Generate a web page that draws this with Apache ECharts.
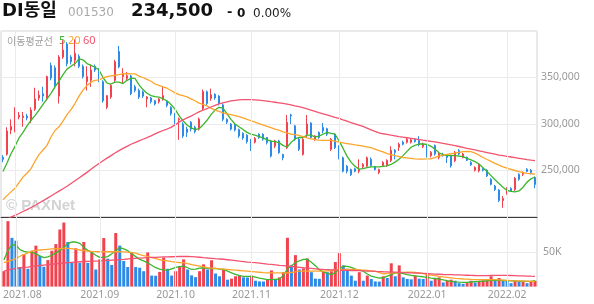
<!DOCTYPE html>
<html><head><meta charset="utf-8">
<script src="https://cdn.jsdelivr.net/npm/echarts/dist/echarts.min.js"></script>
<style>html,body{margin:0;padding:0;background:#fff}#c{width:594px;height:304px}</style>
</head><body><div id="c"></div>
<script>
// ---- data (prices in thousand won, volumes in thousand shares) ----
const dates = [
'2021-07-28','2021-07-29','2021-07-30',
'2021-08-02','2021-08-03','2021-08-04','2021-08-05','2021-08-06','2021-08-09','2021-08-10','2021-08-11','2021-08-12','2021-08-13',
'2021-08-17','2021-08-18','2021-08-19','2021-08-20','2021-08-23','2021-08-24','2021-08-25','2021-08-26','2021-08-27','2021-08-30','2021-08-31',
'2021-09-01','2021-09-02','2021-09-03','2021-09-06','2021-09-07','2021-09-08','2021-09-09','2021-09-10','2021-09-13','2021-09-14',
'2021-09-15','2021-09-16','2021-09-17','2021-09-23','2021-09-24','2021-09-27','2021-09-28','2021-09-29','2021-09-30',
'2021-10-01','2021-10-05','2021-10-06','2021-10-07','2021-10-08','2021-10-12','2021-10-13','2021-10-14','2021-10-15',
'2021-10-18','2021-10-19','2021-10-20','2021-10-21','2021-10-22','2021-10-25','2021-10-26','2021-10-27','2021-10-28','2021-10-29',
'2021-11-01','2021-11-02','2021-11-03','2021-11-04','2021-11-05','2021-11-08','2021-11-09','2021-11-10','2021-11-11','2021-11-12',
'2021-11-15','2021-11-16','2021-11-17','2021-11-18','2021-11-19','2021-11-22','2021-11-23','2021-11-24','2021-11-25','2021-11-26',
'2021-11-29','2021-11-30',
'2021-12-01','2021-12-02','2021-12-03','2021-12-06','2021-12-07','2021-12-08','2021-12-09','2021-12-10','2021-12-13','2021-12-14',
'2021-12-15','2021-12-16','2021-12-17','2021-12-20','2021-12-21','2021-12-22','2021-12-23','2021-12-24','2021-12-27','2021-12-28',
'2021-12-29','2021-12-30',
'2022-01-03','2022-01-04','2022-01-05','2022-01-06','2022-01-07','2022-01-10','2022-01-11','2022-01-12','2022-01-13','2022-01-14',
'2022-01-17','2022-01-18','2022-01-19','2022-01-20','2022-01-21','2022-01-24','2022-01-25','2022-01-26','2022-01-27','2022-01-28',
'2022-02-03','2022-02-04','2022-02-07','2022-02-08','2022-02-09','2022-02-10','2022-02-11','2022-02-14'
];
const openK = [
264,267.5,293.5,300,307.5,307,308.5,304,316,328,
332.5,327,363,360.5,330,372,386,372,368.5,372.7,
362,345.5,347,362,358,345.5,318,329,347,378,
351,349,351.5,340,336,334.5,327,328,325,324,
327,324,318,311,304.5,300,294.5,302,296.5,294.5,
316.5,334.7,327.4,332,330,320.5,305,300,299,294,
290,288,283,280.5,289,289,285.5,281.8,276.3,281.8,
267.3,274.6,309.7,298,283.6,267.3,289,301,283.6,291,
296.3,295,272.8,289,276.3,263.7,254.6,251,251.8,249.3,
254,254.6,262,254.3,247.8,255.4,255.4,260.8,271.7,275,
280.4,280.4,280.4,283.3,282.2,275.7,276.8,265.9,276.8,264.1,
267.7,265.9,265.9,260.5,271.3,264.1,264.1,258.6,250.3,249.6,
251.4,250.3,240.5,233.3,229,217.7,225,230.7,229.6,245.9,
246,251.4,250.3,242.4];
const closeK = [
262,292.5,297.5,306,309.5,308.5,306.5,315,327,331,
330,351,349.5,341.5,372,379.5,365,367,376,362,
351,351,358,358,347,325,330.5,341.5,367,361.5,
354,352,332.5,336,329,330,329,324,321.5,327,
330.5,320,311,302,305.5,287,291,294.5,292,305.3,
335,322,331.4,328,322,305,302,294.5,293.5,287,
285,281,273,284.5,285.5,283.6,280,265.5,281.8,269.2,
263.7,301.8,308.6,283.6,272.8,283.6,300,285.5,287.2,285.5,
292.6,289,283.6,274.6,263.7,249.2,249.2,245.6,249.2,251,
256.5,263.7,255.4,251,251,258.6,260.8,271.7,269.5,278.2,
278.2,283.6,282.9,281.1,277.9,278.5,265.9,269.5,267.7,267.7,
265.9,264.1,255,269.5,267.7,267.7,261.1,256.1,253.2,256.8,
250.3,244.2,235.1,229.6,217.7,219.9,230.7,227.9,241.6,240.5,
247.8,248.9,247.8,235];
const lowK = [
259,266,289,291,305,297,304,301,314,325,
324,325,347,338,322,370,362,364,362,360,
349,336,340,356,345,323,316,327,345,360,
343,347,331,334,327,328,318,322,320,322,
325,318,309,300,283,285,286,292,290,293,
315,320,325,326,320,303,300,293,292,285,
283,279,271,279,284,282,278,264,274,268,
261,273,300,282,271,266,285.8,284,282,284,
290,287,271,273,262,248,247,244,248,247,
252,253,254,250,246,254,254,259,262,271,
277,279,279,280,276,274,264,264,266,262,
265,258,253,259,266,263,260,255,249,248,
249,243,234,228,216,209.8,224,227,228,239,
244,248,246,231];
const highK = [
266.5,296.5,305,318,313,313,311,318,339,336,
340,352,366,363,374,390,388,374,391,375,
364,362,364,364,360,347,331,343,369,384,
360,356,353,342,338,336,330,329,326,328,
340,325,319,312,307,302,297,303,298,307,
337,336,338,333,331,322,306,301,300,295,
291,289,284,286,290,290,286,283,283,283,
268,309.7,311,299,285,285,309.7,302,288,292,
301,296,285,290,277,265,256,252,253,262,
258,265,264,255,252,260,262,276,273,280,
282,285,284,284.5,286.9,280,278,271,278,269,
269,267,267,271,273,269,265,260,254.5,258,
252.5,251.5,242,234.5,230,222.5,232,232,243,247,
249,252.5,251.5,243.5];
const ma5K = [
249,258,268,276,285,291,298,304,309,315,
321,327,333,340,346,353,359,362,365,370,
369,365,363,361,358,350,344,343,345,345,
343.5,347,349,349,342,337,333,330.5,329.5,329,
327,325,321,316,309,303.5,299,296,294,295,
299,304,310,315,318,317,311,305,300,297,
294,291,289,288,286.5,285,283,281.5,281,280,
277,275,280,284,285.5,285.5,288,288,286,287,
289,291,290,289,282,274,265.5,259,254.5,251.5,
252,253,254,254,254,254.5,255,256.5,259,262,
266,270.6,275,277,278.5,278.5,278,276,273,269,
267,266,266,266,265.5,265,263,261.5,259.5,257,
253,249,244.5,240,236,232,228.5,227.5,227,228,
232,237.5,241,243];
const ma20K = [
218.5,223,227,231,237,243,247,252,260,267,
272,277,286,293,297,303,310,315.5,322,330,
336.5,341.5,345,347,347.5,349.5,351,351.8,352.4,353,
354,354.2,354,354,351.5,350,348,346,343,341.5,
340,338.5,336,333.5,331.5,330.4,329.2,327,325,322.5,
321,319.5,317,315,313.5,312,311,310,309,307.8,
306.5,305,303.5,302,300.5,299,297.5,296,294.5,293.3,
291.5,290.5,289.2,288.5,287.8,286.5,285,284,283.2,282.6,
282.5,282.5,282.3,281.5,280.6,279.7,279,278.3,277.6,277,
276.3,275.5,274.6,273,271.4,270,268.2,267,266,265,
264,263.5,263,262.5,262.2,262.2,262.4,262.6,264,265.5,
266.5,267.3,268,268.8,269.6,270.4,270.6,270.3,268.8,266.5,
264,261.8,259.8,257.6,255.7,254,252.5,251.2,250,248.8,
247.8,247,246.5,246];
const ma60K = [
195.5,197.7,199.8,201.8,203.8,205.9,208,210.2,212.4,215,
217.5,220,222.6,225.2,227.8,230.4,233,236,239,242,
245,248,251.3,254.5,257.5,260.5,263.3,266,268.8,271.4,
273.8,276,278.2,280,281.8,283.6,285.4,287.3,289.3,291.2,
293,294.6,296.4,299,302,304.5,306.5,308.5,310.8,313,
314.8,316.5,318.3,320,321.6,322.8,323.8,324.8,325.4,325.9,
326.2,326.3,326.2,325.9,325.6,325.2,324.7,324,323.4,322.8,
322.2,321.4,320.5,319.5,318.6,317.5,316.3,315,313.6,312.2,
311,309.8,308.5,307.1,306,304.4,303,301.6,300.2,298.8,
297.4,295.6,293.6,292,290.4,289.5,288.8,288,287.3,286.5,
285.8,285.2,284.6,284,283.3,282.6,282,281.4,280.7,280,
279.2,278.4,277.6,276.7,275.8,274.8,273.8,273,272.1,271.2,
270.2,269.3,268.4,267.5,266.6,265.9,265.2,264.5,263.8,263.1,
262.4,261.7,261.1,260.6];
const volK = [
22,94,70,66,28,46.6,25.5,51.5,58.8,44,
28.4,38,51.5,61,82,92,64,35,55,34,
64,34,49,24.5,39,69.7,40,31,77,58.8,
36.8,28,49,28,27,22,49,15.7,15.5,21,
41.7,25.5,15.7,22,29.4,39,24.5,16,13.5,22,
31.9,24.5,37.8,18.7,14.7,24.5,9.8,11.3,14.7,15.7,
13.2,13,15.7,8.3,7.3,7.2,9.8,23.1,10.8,13.2,
20.6,70.1,30.4,45.1,24.5,26,40.2,20.6,11.3,11,
22,20.6,22,35.2,48.1,30.4,25.5,15.7,8.3,20.6,
8.3,15.7,10.8,7.3,7,14.7,12.2,33.4,14.7,30.4,
13.2,10.8,10.3,15.7,11.3,10.8,19.6,8.3,12.2,13.2,
5.8,8.3,9.8,8.3,4.8,3.8,4.9,8.3,5.8,8.3,
8.8,10.8,14.7,9.8,12.2,8.8,8.3,4.8,8.3,7.3,
8.3,4.8,7.3,8.3];
const volMa5K = [
38,52,60,59.7,53,50.5,49.5,49,47,44,
41.5,42.5,45,48,52,56.3,62,64,64,62,
56.3,52,49,45,42,42,43,47,51.5,56,
54,51.5,47,43,39,36.8,34,30.5,27,25,
23.8,23.5,25.5,27.5,28.5,29.4,27,24.5,25,26.5,
27,26,25.5,26,25,24.5,22,19.5,17.5,15.5,
14.7,14.5,14.7,13.5,12,11,10,9.8,10.3,10.8,
16,25,30,34.3,37,39,39.2,35,30,24,
21,19,17.2,20,25,29.4,29,27.5,25,23.5,
22,18,15,13.5,12.2,12.5,15,17.2,19.6,19.6,
18.5,17,16,15.3,14.7,14,13.2,12.2,11.5,10.5,
9.5,8.3,7.5,6.8,6.2,5.8,6,6.5,7,7.3,
7.8,8.3,8.8,8.8,8.8,8.6,8.4,8.3,8,7.8,
7.5,7.3,7.5,8.3];
const volMa20K = [
34.3,36,38,40,43.5,46,48.5,51,52,52.5,
53,53.5,54,54.3,54.6,55,55,54.5,53.5,52.5,
51.5,51,50.5,50.2,50,50,50,50,50,50,
49.8,49.4,49.1,48,46,44.5,43,41.5,40,38.5,
37.5,36.8,35.8,35,34.5,34.3,33,31.5,30.5,29.4,
28.2,27,26.5,26,25.5,25,24.5,24,23.5,23,
22.5,22,21.5,21,20.5,20,19.6,19.6,19.6,19.6,
19.6,19.6,20.3,21,22,22,22,22,22,22,
22,22.5,23,23.8,24.5,24.5,24.5,24.5,24.5,24,
23.5,23,22.5,22,20,18,19,19.6,19.6,20,
20.3,20.6,20.6,20.3,19.5,18.5,17.2,16.5,15.5,14.5,
13.8,13.2,12.5,11.8,11.3,10.8,10.5,10.2,10,9.8,
9.8,9.8,9.8,9.8,9.5,9.2,8.8,8.4,8.2,8,
7.8,7.6,7.4,7.3];
const volMa60K = [
22,23.5,25,26,26.8,27.4,28,29,29.6,30.2,
30.8,31.4,32,32.6,33.2,33.8,34.3,34.8,35.2,35.6,
36,36.2,36.4,36.6,36.8,37.1,37.5,37.9,38.3,38.7,
39.1,39.6,40.2,40.6,40.9,41.2,41.5,41.8,42,42.3,
42.5,42.6,42.8,43,43.2,43.3,43.2,42.9,42.5,42.1,
41.5,41,40.6,40,39.6,39.2,38.5,37.8,37.1,36.4,
35.8,35.2,34.7,34.3,33.7,33,32.3,31.7,31.1,30.5,
30,29.4,28.8,28.2,27.6,27,26.5,26,25.5,24.8,
24.5,24.3,24,23.8,23.6,23.4,23.2,23,23,22.8,
22.5,22.2,22,21.7,21.5,21.2,21,20.8,20.6,20.3,
20,19.8,19.6,19.4,19.1,18.8,18.5,18.2,17.9,17.6,
17.3,17.2,17,16.8,16.6,16.4,16.2,16,15.8,15.7,
15.7,15.7,15.8,15.9,16,16,16,15.8,15.6,15.4,
15.2,15,14.8,14.7];
const priceTicksK = [250, 300, 350];
const volTicksK = [50];
const header = { name: 'DI동일', code: '001530', price: '234,500', sign: '-', change: '0', pct: '0.00%' };
const maLabels = ['5', '20', '60'];

// ---- styles ----
const RED = '#f0434f', BLUE = '#2d8ae6', C5 = '#3bb62d', C20 = '#fba52c', C60 = '#f2536e';
const AXISFONT = 'Noto Sans';

const monthStarts = dates.map((d, i) => (i > 0 && d.slice(0, 7) !== dates[i - 1].slice(0, 7)) ? i : -1).filter(i => i >= 0);
const monthSet = new Set(monthStarts);

const chart = echarts.init(document.getElementById('c'), null, { renderer: 'canvas' });
const candleData = dates.map((_, i) => [openK[i], closeK[i], lowK[i], highK[i]]);
const volData = volK.map((v, i) => ({ value: v, itemStyle: { color: (i === 0 || v >= volK[i - 1]) ? RED : BLUE } }));
const nulls = dates.map(() => null);

function maLine(name, data, color, xi, yi) {
  return { name, type: 'line', xAxisIndex: xi, yAxisIndex: yi, data, symbol: 'none', smooth: false,
    lineStyle: { color, width: 1.3 }, z: 3, silent: true, clip: true };
}
function monthLines(xi, yi) {
  return { type: 'line', xAxisIndex: xi, yAxisIndex: yi, data: nulls, symbol: 'none', z: 1, silent: true,
    markLine: { silent: true, symbol: 'none', animation: false, label: { show: false },
      lineStyle: { color: '#ebebeb', type: 'solid', width: 1 },
      data: monthStarts.map(i => ({ xAxis: i })) } };
}

const option = {
  animation: false,
  grid: [
    { left: 1, right: 57, top: 31, height: 186, show: true, borderColor: '#d2d2d2', borderWidth: 1 },
    { left: 1, right: 57, top: 217, height: 69.5, show: true, borderColor: '#d2d2d2', borderWidth: 1 }
  ],
  xAxis: [
    { type: 'category', gridIndex: 0, data: dates, boundaryGap: true,
      axisLine: { show: true, lineStyle: { color: '#3a3a3a', width: 1 } }, axisTick: { show: false },
      axisLabel: { show: false }, splitLine: { show: false } },
    { type: 'category', gridIndex: 1, data: dates, boundaryGap: true,
      axisLine: { show: false }, axisTick: { show: false }, splitLine: { show: false },
      axisLabel: { interval: (i) => monthSet.has(i), color: '#999', fontSize: 10.5, fontFamily: AXISFONT, margin: 3,
        formatter: (v, i) => { const s = v.slice(0, 4) + '.' + v.slice(5, 7); return i === monthStarts[0] ? '{f|' + s + '}' : s; },
        rich: { f: { padding: [0, 0, 0, 13], color: '#999', fontSize: 10.5, fontFamily: AXISFONT } } } }
  ],
  yAxis: [
    { type: 'value', gridIndex: 0, position: 'right', min: 200, max: 400, interval: 50, scale: false,
      axisLine: { show: false }, axisTick: { show: false },
      axisLabel: { color: '#999', fontSize: 10.5, fontFamily: AXISFONT, margin: 4,
        formatter: v => priceTicksK.includes(v) ? (v * 1000).toLocaleString('en-US') : '' },
      splitLine: { show: true, lineStyle: { color: '#ebebeb' } } },
    { type: 'value', gridIndex: 1, position: 'right', min: 0, max: 100, interval: 50,
      axisLine: { show: false }, axisTick: { show: false },
      axisLabel: { color: '#999', fontSize: 10.5, fontFamily: AXISFONT, margin: 6,
        formatter: v => volTicksK.includes(v) ? v + 'K' : '' },
      splitLine: { show: true, lineStyle: { color: '#ebebeb' } } }
  ],
  graphic: { elements: [
    { type: 'text', x: 6, y: 206, z: 0, silent: true, style: { text: '© PAXNet', font: 'bold 15px "Liberation Sans", Arial, sans-serif', fill: '#d3d3d3', verticalAlign: 'middle', textVerticalAlign: 'middle' } },
    { type: 'text', x: 2, y: 11.5, style: { text: header.name, font: 'bold 18px "DejaVu Sans", "Noto Sans CJK KR", sans-serif', fill: '#111', verticalAlign: 'middle', textVerticalAlign: 'middle' } },
    { type: 'text', x: 68, y: 12.5, style: { text: header.code, font: '12px "DejaVu Sans", sans-serif', fill: '#aaa', verticalAlign: 'middle', textVerticalAlign: 'middle' } },
    { type: 'text', x: 131, y: 11, style: { text: header.price, font: 'bold 18px "DejaVu Sans", sans-serif', fill: '#111', verticalAlign: 'middle', textVerticalAlign: 'middle' } },
    { type: 'text', x: 227, y: 13, style: { text: header.sign, font: 'bold 13px "DejaVu Sans", sans-serif', fill: '#111', verticalAlign: 'middle', textVerticalAlign: 'middle' } },
    { type: 'text', x: 237, y: 13.5, style: { text: header.change, font: 'bold 12px "DejaVu Sans", sans-serif', fill: '#111', verticalAlign: 'middle', textVerticalAlign: 'middle' } },
    { type: 'text', x: 253, y: 13.5, style: { text: header.pct, font: '12px "DejaVu Sans", sans-serif', fill: '#222', verticalAlign: 'middle', textVerticalAlign: 'middle' } },
    { type: 'text', x: 7, y: 41, style: { text: '이동평균선', font: '10px "Noto Sans CJK KR", sans-serif', fill: '#a0a0a0', verticalAlign: 'middle', textVerticalAlign: 'middle' } },
    { type: 'text', x: 59, y: 41, style: { text: maLabels[0], font: '11px "Noto Sans", sans-serif', fill: C5, verticalAlign: 'middle', textVerticalAlign: 'middle' } },
    { type: 'text', x: 68, y: 41, style: { text: maLabels[1], font: '11px "Noto Sans", sans-serif', fill: C20, verticalAlign: 'middle', textVerticalAlign: 'middle' } },
    { type: 'text', x: 83, y: 41, style: { text: maLabels[2], font: '11px "Noto Sans", sans-serif', fill: C60, verticalAlign: 'middle', textVerticalAlign: 'middle' } }
  ] },
  series: [
    monthLines(0, 0),
    monthLines(1, 1),
    { name: 'candle', type: 'candlestick', xAxisIndex: 0, yAxisIndex: 0, data: candleData, barWidth: 2, z: 2, silent: true,
      itemStyle: { color: RED, color0: BLUE, borderColor: RED, borderColor0: BLUE, borderWidth: 1 } },
    maLine('MA5', ma5K, C5, 0, 0),
    maLine('MA20', ma20K, C20, 0, 0),
    maLine('MA60', ma60K, C60, 0, 0),
    { name: 'vol', type: 'bar', xAxisIndex: 1, yAxisIndex: 1, data: volData, barWidth: 3, z: 2, silent: true },
    maLine('VMA5', volMa5K, C5, 1, 1),
    maLine('VMA20', volMa20K, C20, 1, 1),
    maLine('VMA60', volMa60K, C60, 1, 1)
  ]
};
chart.setOption(option);
</script>
</body></html>
